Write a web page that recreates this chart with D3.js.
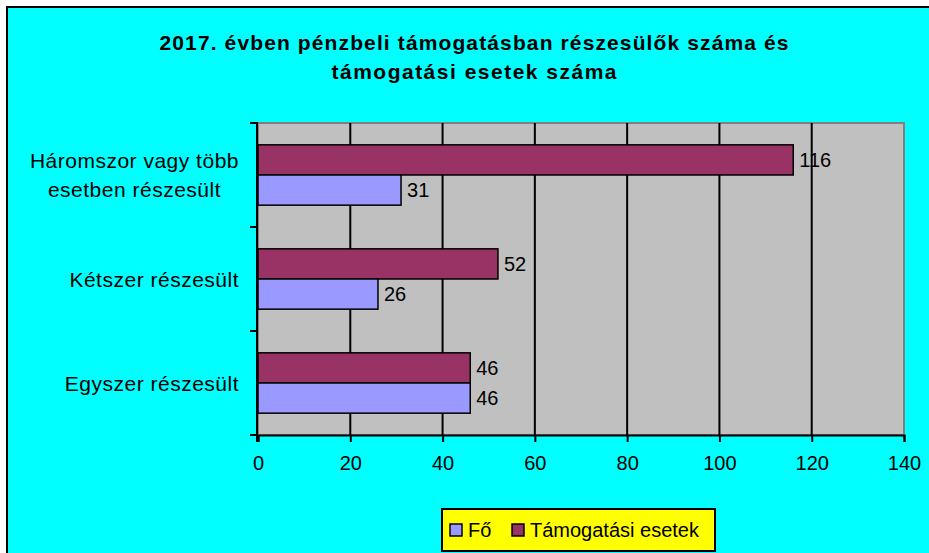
<!DOCTYPE html>
<html>
<head>
<meta charset="utf-8">
<script src="https://cdn.jsdelivr.net/npm/d3@7"></script>
<style>
  body { margin: 0; background: #fff; }
  svg { display: block; font-family: Arial, "Liberation Sans", sans-serif; }
</style>
</head>
<body>
<svg id="chart" width="929" height="553"></svg>
<script>
// data
var categories = ["Háromszor vagy több esetben részesült", "Kétszer részesült", "Egyszer részesült"];
var categoryLines = [["Háromszor vagy több", "esetben részesült"], ["Kétszer részesült"], ["Egyszer részesült"]];
var seriesNames = ["Fő", "Támogatási esetek"];
var foValues = [31, 26, 46];
var tamogatasValues = [116, 52, 46];
var xTicks = [0, 20, 40, 60, 80, 100, 120, 140];
var titleLines = ["2017. évben pénzbeli támogatásban részesülők száma és", "támogatási esetek száma"];

var colors = { "Fő": "#9999FF", "Támogatási esetek": "#993366" };

var svg = d3.select("#chart");

// outer chart frame
svg.append("rect")
  .attr("x", 7).attr("y", 7)
  .attr("width", 940).attr("height", 560)
  .attr("fill", "#00FFFF")
  .attr("stroke", "#000").attr("stroke-width", 2);

// title
var titleWidths = [629, 285];
svg.append("g").selectAll("text")
  .data(titleLines)
  .join("text")
  .attr("x", 474)
  .attr("y", function(d, i) { return 50 + i * 29; })
  .attr("text-anchor", "middle")
  .attr("font-size", 21)
  .attr("font-weight", "bold")
  .attr("textLength", function(d, i) { return titleWidths[i]; })
  .attr("lengthAdjust", "spacing")
  .text(function(d) { return d; });

var plotLeft = 258, plotRight = 904, plotTop = 123, plotBottom = 435;

var x = d3.scaleLinear().domain([0, 140]).range([plotLeft, plotRight]);
var y = d3.scaleBand().domain(categories).range([plotTop, plotBottom])
  .paddingInner(0.42).paddingOuter(0.21);
// Támogatási on top, Fő below within each group
var ySub = d3.scaleBand().domain(["Támogatási esetek", "Fő"]).range([0, y.bandwidth()]);

// plot area
svg.append("rect")
  .attr("x", plotLeft).attr("y", plotTop)
  .attr("width", plotRight - plotLeft).attr("height", plotBottom - plotTop)
  .attr("fill", "#C0C0C0")
  .attr("stroke", "#808080").attr("stroke-width", 2);

// vertical gridlines
svg.append("g").selectAll("line")
  .data(xTicks.slice(1, -1))
  .join("line")
  .attr("x1", function(d) { return x(d); }).attr("x2", function(d) { return x(d); })
  .attr("y1", plotTop).attr("y2", plotBottom)
  .attr("stroke", "#000").attr("stroke-width", 2);

// bars
var rows = categories.map(function(c, i) {
  return [
    { cat: c, series: "Támogatási esetek", value: tamogatasValues[i] },
    { cat: c, series: "Fő", value: foValues[i] }
  ];
});
var flat = [].concat.apply([], rows);

svg.append("g").selectAll("rect")
  .data(flat)
  .join("rect")
  .attr("x", x(0))
  .attr("y", function(d) { return y(d.cat) + ySub(d.series); })
  .attr("width", function(d) { return x(d.value) - x(0); })
  .attr("height", ySub.bandwidth())
  .attr("fill", function(d) { return colors[d.series]; })
  .attr("stroke", "#000").attr("stroke-width", 1.5);

// value labels
svg.append("g").selectAll("text")
  .data(flat)
  .join("text")
  .attr("x", function(d) { return x(d.value) + 6; })
  .attr("y", function(d) { return y(d.cat) + ySub(d.series) + ySub.bandwidth() / 2; })
  .attr("dy", "0.36em")
  .attr("font-size", 20)
  .text(function(d) { return d.value; });

// x axis
var xAxis = d3.axisBottom(x).tickValues(xTicks).tickSize(7).tickPadding(14);
var gx = svg.append("g").attr("transform", "translate(0," + plotBottom + ")").call(xAxis);
gx.select(".domain").attr("stroke", "#000").attr("stroke-width", 2);
gx.selectAll(".tick line").attr("stroke", "#000").attr("stroke-width", 2);
gx.selectAll(".tick text").attr("font-size", 20).attr("font-family", "Arial, 'Liberation Sans', sans-serif").attr("fill", "#000");

// y axis line and ticks at group boundaries
var step = y.step();
var yBounds = [0, 1, 2, 3].map(function(i) { return plotTop + i * step; });
svg.append("line")
  .attr("x1", plotLeft - 1).attr("x2", plotLeft - 1)
  .attr("y1", plotTop).attr("y2", plotBottom + 7)
  .attr("stroke", "#000").attr("stroke-width", 2);
svg.append("g").selectAll("line")
  .data(yBounds)
  .join("line")
  .attr("x1", plotLeft - 8).attr("x2", plotLeft)
  .attr("y1", function(d) { return d; }).attr("y2", function(d) { return d; })
  .attr("stroke", "#000").attr("stroke-width", 2);

// category labels
var catG = svg.append("g").selectAll("text")
  .data(categories)
  .join("text")
  .attr("font-size", 21)
  .attr("letter-spacing", 0.5)
  .attr("text-anchor", "middle");
catG.each(function(c, i) {
  var lines = categoryLines[i];
  var t = d3.select(this);
  var cy = y(c) + y.bandwidth() / 2;
  var lh = 29;
  lines.forEach(function(l, j) {
    t.append("tspan")
      .attr("x", 0)
      .attr("y", cy + (j - (lines.length - 1) / 2) * lh)
      .attr("dy", "0.36em")
      .text(l);
  });
  var w = this.getBBox().width;
  t.attr("transform", "translate(" + (239 - w / 2) + ",0)");
});

// legend
var lg = svg.append("g");
lg.append("rect")
  .attr("x", 442).attr("y", 509)
  .attr("width", 273).attr("height", 42)
  .attr("fill", "#FFFF00")
  .attr("stroke", "#000").attr("stroke-width", 2);
var legX = [450, 512];
seriesNames.forEach(function(s, i) {
  lg.append("rect")
    .attr("x", legX[i]).attr("y", 524)
    .attr("width", 12).attr("height", 12)
    .attr("fill", colors[s])
    .attr("stroke", "#000").attr("stroke-width", 1.5);
  lg.append("text")
    .attr("x", legX[i] + 18).attr("y", 530)
    .attr("dy", "0.36em")
    .attr("font-size", 20)
    .text(s);
});
</script>
</body>
</html>
